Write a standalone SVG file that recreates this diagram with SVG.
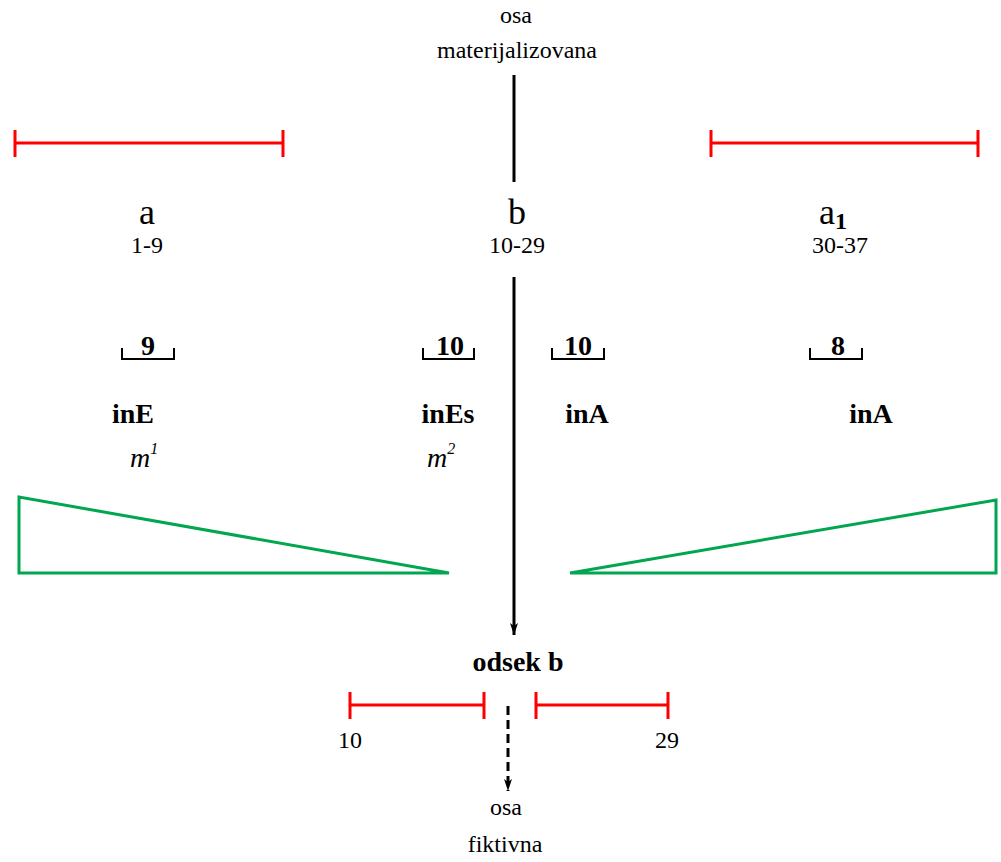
<svg xmlns="http://www.w3.org/2000/svg" width="1001" height="862" viewBox="0 0 1001 862">
<defs>
<style>
text{fill:#000;text-anchor:middle;font-family:"Liberation Serif","Times New Roman",serif}
.lbl{font-size:24px}
.big{font-size:36px}
.b{font-weight:bold;font-size:28px}
.it{font-style:italic;font-size:28px;text-anchor:start}
.red{stroke:#ff0000;stroke-width:3;fill:none}
.grn{stroke:#00a650;stroke-width:3;fill:none}
.blk{stroke:#000;stroke-width:3;fill:none}
.brk{stroke:#000;stroke-width:2;fill:none}
</style>
<marker id="ah" viewBox="0 0 12 10" refX="12" refY="5" markerWidth="12" markerHeight="10" markerUnits="userSpaceOnUse" orient="auto">
<path d="M0,1 L12,5 L0,9 L3,5 z" fill="#000"/>
</marker>
</defs>
<rect width="1001" height="862" fill="#fff"/>
<g id="connectors">
<line class="blk" x1="514" y1="75" x2="514" y2="182"/>
<line class="blk" x1="514" y1="277" x2="514" y2="635" marker-end="url(#ah)"/>
<line class="blk" x1="508" y1="706" x2="508" y2="791" stroke-dasharray="9,5" marker-end="url(#ah)"/>
</g>
<g id="axis-top">
<text class="lbl" x="516" y="23">osa</text>
<text class="lbl" x="517" y="58">materijalizovana</text>
</g>
<g id="bar-left">
<path class="red" d="M15,143 H283 M15,130 V157 M283,130 V157"/>
</g>
<g id="bar-right">
<path class="red" d="M711,143 H978 M711,130 V157 M978,130 V157"/>
</g>
<g id="sec-a">
<text class="big" x="147" y="224">a</text>
<text class="lbl" x="147" y="253">1-9</text>
</g>
<g id="sec-b">
<text class="big" x="517" y="224">b</text>
<text class="lbl" x="517" y="253">10-29</text>
</g>
<g id="sec-a1">
<text class="big" x="833" y="224">a<tspan font-size="24" font-weight="bold" dy="5">1</tspan></text>
<text class="lbl" x="840" y="253">30-37</text>
</g>
<g id="br-9">
<path class="brk" d="M122,348 V359 H174 V348"/>
<text class="b" x="148" y="355">9</text>
<text class="b" x="133" y="423">inE</text>
<text class="it" x="130" y="467">m<tspan font-size="16" dy="-13">1</tspan></text>
</g>
<g id="br-10a">
<path class="brk" d="M423,348 V359 H474 V348"/>
<text class="b" x="450" y="355">10</text>
<text class="b" x="448" y="423">inEs</text>
<text class="it" x="427" y="467">m<tspan font-size="16" dy="-13">2</tspan></text>
</g>
<g id="br-10b">
<path class="brk" d="M552,348 V359 H604 V348"/>
<text class="b" x="578" y="355">10</text>
<text class="b" x="587" y="423">inA</text>
</g>
<g id="br-8">
<path class="brk" d="M810,348 V359 H862 V348"/>
<text class="b" x="838" y="355">8</text>
<text class="b" x="871" y="423">inA</text>
</g>
<g id="tri-left">
<polygon class="grn" points="19,497 19,573 449,573"/>
</g>
<g id="tri-right">
<polygon class="grn" points="570,573 996,573 996,500"/>
</g>
<g id="odsek">
<text class="b" x="518" y="671">odsek b</text>
</g>
<g id="bar-b-left">
<path class="red" d="M350,705 H484 M350,692 V719 M484,692 V719"/>
<text class="lbl" x="350" y="748">10</text>
</g>
<g id="bar-b-right">
<path class="red" d="M536,705 H668 M536,692 V719 M668,692 V719"/>
<text class="lbl" x="667" y="748">29</text>
</g>
<g id="axis-bottom">
<text class="lbl" x="506" y="815">osa</text>
<text class="lbl" x="505" y="852">fiktivna</text>
</g>
</svg>
